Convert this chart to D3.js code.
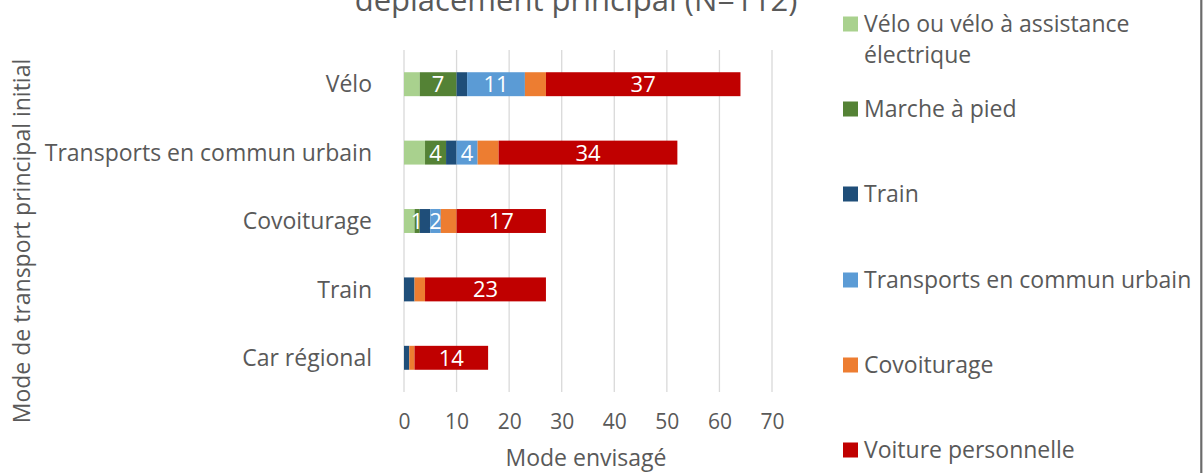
<!DOCTYPE html>
<html>
<head>
<meta charset="utf-8">
<script src="https://cdn.jsdelivr.net/npm/d3@7"></script>
<style>
  body { margin: 0; background: #fff; }
  svg { display: block; font-family: "Open Sans", sans-serif; }
</style>
</head>
<body>
<svg width="1204" height="473"></svg>
<script>
// donnees
var categories = ["Vélo", "Transports en commun urbain", "Covoiturage", "Train", "Car régional"];
var seriesNames = ["Vélo ou vélo à assistance électrique", "Marche à pied", "Train",
                   "Transports en commun urbain", "Covoiturage", "Voiture personnelle"];
var veloVae  = [3, 4, 2, 0, 0];
var marche   = [7, 4, 1, 0, 0];
var train    = [2, 2, 2, 2, 1];
var tcu      = [11, 4, 2, 0, 0];
var covoit   = [4, 4, 3, 2, 1];
var voiture  = [37, 34, 17, 23, 14];
var xTicks   = [0, 10, 20, 30, 40, 50, 60, 70];

var colors = ["#a9d18e", "#548235", "#1f4e79", "#5b9bd5", "#ed7d31", "#c00000"];
var labelled = [false, true, false, true, false, true];

var keys = ["veloVae", "marche", "train", "tcu", "covoit", "voiture"];
var values = [veloVae, marche, train, tcu, covoit, voiture];
var table = categories.map(function(c, i) {
  var row = { cat: c };
  keys.forEach(function(k, j) { row[k] = values[j][i]; });
  return row;
});

var svg = d3.select("svg");
var textColor = "#595959";
var fontSize = 23;

var x = d3.scaleLinear().domain([0, 70]).range([404, 772]);
var y = d3.scaleBand().domain(categories).range([50, 392])
    .paddingInner(0.65).paddingOuter(0.325);

// grille verticale
svg.append("g")
  .selectAll("line")
  .data(xTicks)
  .enter().append("line")
  .attr("x1", function(d) { return x(d); })
  .attr("x2", function(d) { return x(d); })
  .attr("y1", 50).attr("y2", 392)
  .attr("stroke", "#d9d9d9").attr("stroke-width", 1.3);

var stack = d3.stack().keys(keys)(table);

var layers = svg.append("g")
  .selectAll("g")
  .data(stack)
  .enter().append("g")
  .attr("fill", function(d, i) { return colors[i]; });

layers.selectAll("rect")
  .data(function(d) { return d; })
  .enter().append("rect")
  .attr("x", function(d) { return x(d[0]); })
  .attr("width", function(d) { return x(d[1]) - x(d[0]); })
  .attr("y", function(d) { return y(d.data.cat); })
  .attr("height", y.bandwidth());

// etiquettes de donnees
layers.filter(function(d, i) { return labelled[i]; })
  .selectAll("text")
  .data(function(d) { return d.filter(function(s) { return s[1] - s[0] > 0; }); })
  .enter().append("text")
  .attr("x", function(d) { return (x(d[0]) + x(d[1])) / 2; })
  .attr("y", function(d) { return y(d.data.cat) + y.bandwidth() / 2; })
  .attr("dy", "0.36em")
  .attr("text-anchor", "middle")
  .attr("fill", "#fff")
  .style("font-size", "22px")
  .text(function(d) { return d[1] - d[0]; });

// axe des x
var xAxis = svg.append("g")
  .attr("transform", "translate(0,392)")
  .call(d3.axisBottom(x).tickValues(xTicks).tickSize(0).tickPadding(22));
xAxis.select(".domain").remove();
xAxis.selectAll("text")
  .attr("fill", textColor)
  .style("font-size", "21px")
  .style("font-family", "'Open Sans', sans-serif");

// axe des y
var yAxis = svg.append("g")
  .attr("transform", "translate(372,0)")
  .call(d3.axisLeft(y).tickSize(0).tickPadding(0));
yAxis.select(".domain").remove();
yAxis.selectAll("text")
  .attr("fill", textColor)
  .attr("dy", "0.36em")
  .style("font-size", fontSize + "px")
  .style("font-family", "'Open Sans', sans-serif");

svg.append("text")
  .attr("x", 586).attr("y", 458).attr("dy", "0.36em")
  .attr("text-anchor", "middle")
  .attr("fill", textColor)
  .style("font-size", "23px")
  .text("Mode envisagé");

svg.append("text")
  .attr("transform", "translate(22,241) rotate(-90)")
  .attr("dy", "0.36em")
  .attr("text-anchor", "middle")
  .attr("fill", textColor)
  .style("font-size", "23px")
  .text("Mode de transport principal initial");

// titre (coupe en haut)
svg.append("text")
  .attr("x", 576).attr("y", 11)
  .attr("text-anchor", "middle")
  .attr("fill", textColor)
  .style("font-size", "31px")
  .text("déplacement principal (N=112)");

// legende
var legendY = [24, 109, 194, 280, 365, 450];
var legend = svg.append("g")
  .selectAll("g")
  .data(seriesNames)
  .enter().append("g")
  .attr("transform", function(d, i) { return "translate(843," + legendY[i] + ")"; });

legend.append("rect")
  .attr("x", 0).attr("y", -7.5)
  .attr("width", 15).attr("height", 15)
  .attr("fill", function(d, i) { return colors[i]; });

legend.append("text")
  .attr("x", 21)
  .attr("fill", textColor)
  .style("font-size", fontSize + "px")
  .each(function(d, i) {
    var lines = i === 0 ? ["Vélo ou vélo à assistance", "électrique"] : [d];
    d3.select(this).selectAll("tspan")
      .data(lines)
      .enter().append("tspan")
      .attr("x", 21)
      .attr("dy", function(l, j) { return j === 0 ? "0.36em" : "1.35em"; })
      .text(function(l) { return l; });
  });

// bord droit
svg.append("line")
  .attr("x1", 1201.3).attr("x2", 1201.3)
  .attr("y1", 0).attr("y2", 473)
  .attr("stroke", "#6b6b6b").attr("stroke-width", 2.2);
</script>
</body>
</html>
